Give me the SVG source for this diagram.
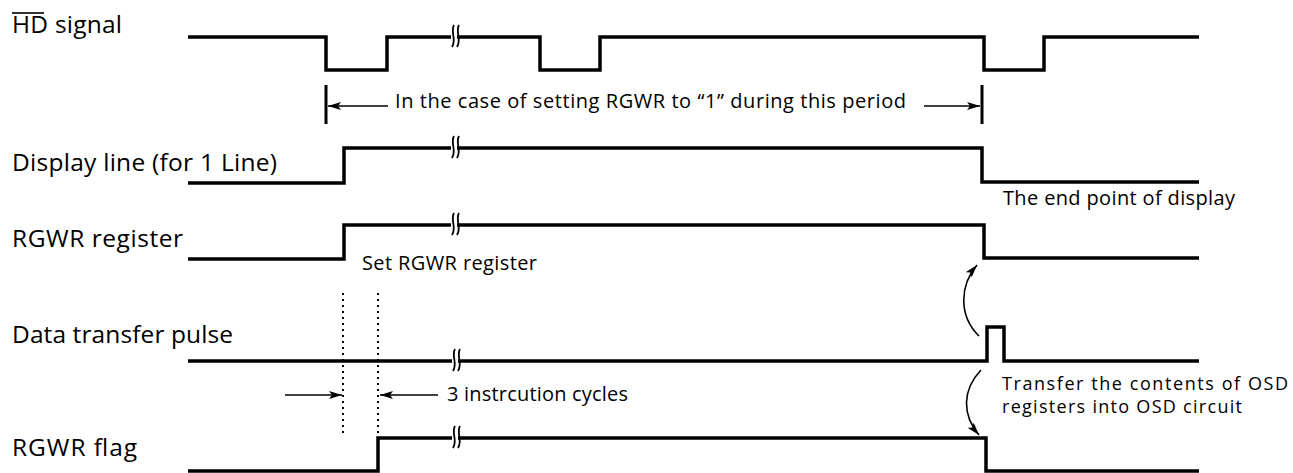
<svg xmlns="http://www.w3.org/2000/svg" width="1293" height="473" viewBox="0 0 1293 473">
<style>
.sig{fill:none;stroke:#000;stroke-width:3.5;stroke-linejoin:miter;stroke-linecap:butt}
.lbl{font-family:"Open Sans","Liberation Sans",sans-serif;font-size:24.5px;fill:#000}
.note{font-family:"Open Sans","Liberation Sans",sans-serif;font-size:20px;fill:#000}
.note2{font-family:"Open Sans","Liberation Sans",sans-serif;font-size:18px;fill:#000}
.thin{fill:none;stroke:#000;stroke-width:1.6}
.bar{stroke:#000;stroke-width:3}
.dot{stroke:#000;stroke-width:2;stroke-dasharray:2 4}
</style>
<defs>
<marker id="ah" viewBox="0 0 13 8" refX="13" refY="4" markerWidth="13" markerHeight="8" markerUnits="userSpaceOnUse" orient="auto">
<path d="M0,0 L13,4 L0,8 L3,4 Z" fill="#000"/>
</marker>
<g id="brk">
<rect x="-2" y="-6" width="6" height="12" fill="#fff"/>
<path d="M1,-12 C-3,-5 4,2 -1,10 M6,-12 C2,-5 9,2 4,10" fill="none" stroke="#000" stroke-width="1.8"/>
</g>
</defs>
<g id="hd-signal">
<text class="lbl" x="12" y="33" textLength="110" lengthAdjust="spacing">HD signal</text>
<line x1="12" y1="13" x2="44" y2="13" stroke="#000" stroke-width="1.6"/>
<path class="sig" d="M188,37 H326 V70 H387 V37 H540 V70 H600 V37 H984 V70 H1044 V37 H1199"/>
<use href="#brk" x="453" y="37"/>
</g>
<g id="display-line">
<text class="lbl" x="12" y="171" textLength="265" lengthAdjust="spacing">Display line (for 1 Line)</text>
<path class="sig" d="M188,183 H344 V148 H982 V182 H1199"/>
<use href="#brk" x="453" y="148"/>
<text class="note" x="1003" y="205" textLength="232" lengthAdjust="spacing">The end point of display</text>
</g>
<g id="rgwr-register">
<text class="lbl" x="12" y="247" textLength="171" lengthAdjust="spacing">RGWR register</text>
<path class="sig" d="M188,259 H344 V225 H984 V258 H1199"/>
<use href="#brk" x="453" y="225"/>
<text class="note" x="362" y="270" textLength="175" lengthAdjust="spacing">Set RGWR register</text>
</g>
<g id="data-transfer-pulse">
<text class="lbl" x="12" y="343" textLength="221" lengthAdjust="spacing">Data transfer pulse</text>
<path class="sig" d="M188,361 H987 V327 H1004 V361 H1199"/>
<use href="#brk" x="454" y="361"/>
<text class="note2" x="1002" y="390" textLength="286" lengthAdjust="spacing">Transfer the contents of OSD</text>
<text class="note2" x="1002" y="413" textLength="240" lengthAdjust="spacing">registers into OSD circuit</text>
</g>
<g id="rgwr-flag">
<text class="lbl" x="12" y="456" textLength="125" lengthAdjust="spacing">RGWR flag</text>
<path class="sig" d="M188,471 H378 V438 H986 V471 H1199"/>
<use href="#brk" x="454" y="438"/>
</g>
<g id="connectors">
<line class="bar" x1="326" y1="85" x2="326" y2="124"/>
<line class="bar" x1="982" y1="85" x2="982" y2="124"/>
<line class="thin" x1="388" y1="106" x2="328" y2="106" marker-end="url(#ah)"/>
<line class="thin" x1="924" y1="106" x2="980" y2="106" marker-end="url(#ah)"/>
<text class="note" x="395" y="108" textLength="511" lengthAdjust="spacing">In the case of setting RGWR to “1” during this period</text>
<line class="dot" x1="343" y1="293" x2="343" y2="437"/>
<line class="dot" x1="378" y1="293" x2="378" y2="437"/>
<line class="thin" x1="285" y1="395" x2="342" y2="395" marker-end="url(#ah)"/>
<line class="thin" x1="438" y1="395" x2="380" y2="395" marker-end="url(#ah)"/>
<text class="note" x="447" y="401" textLength="181" lengthAdjust="spacing">3 instrcution cycles</text>
<path class="thin" d="M979,336 C958,315 960,285 977,265" marker-end="url(#ah)"/>
<path class="thin" d="M981,370 C962,390 962,415 979,435" marker-end="url(#ah)"/>
</g>
</svg>
